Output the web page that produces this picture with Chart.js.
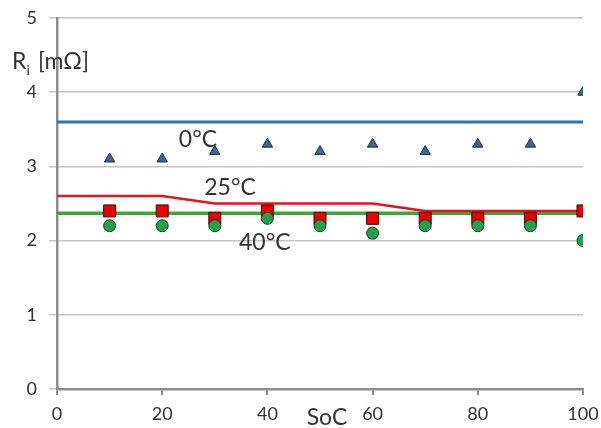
<!DOCTYPE html>
<html>
<head>
<meta charset="utf-8">
<script src="https://cdn.jsdelivr.net/npm/chart.js@4.4.1/dist/chart.umd.min.js"></script>
<style>
  html, body { margin: 0; padding: 0; background: #ffffff; }
  #wrap { width: 601px; height: 428px; position: relative; }
</style>
</head>
<body>
<div id="wrap"><canvas id="c" width="601" height="428"></canvas></div>
<script>
// State of charge (%) at which the internal resistance was measured
const socPoints = [10, 20, 30, 40, 50, 60, 70, 80, 90, 100];

// Measured internal resistance R_i in mΩ
const ri0C  = [3.1, 3.1, 3.2, 3.3, 3.2, 3.3, 3.2, 3.3, 3.3, 4.0];
const ri25C = [2.4, 2.4, 2.3, 2.4, 2.3, 2.3, 2.3, 2.3, 2.3, 2.4];
const ri40C = [2.2, 2.2, 2.2, 2.3, 2.2, 2.1, 2.2, 2.2, 2.2, 2.0];

// Model curves
const modelSoc0C  = [0, 100];
const model0C     = [3.6, 3.6];
const modelSoc25C = [0, 20, 30, 60, 70, 100];
const model25C    = [2.6, 2.6, 2.5, 2.5, 2.4, 2.4];
const modelSoc40C = [0, 100];
const model40C    = [2.37, 2.37];

// Axis ticks
const xTicks = [0, 20, 40, 60, 80, 100];
const yTicks = [0, 1, 2, 3, 4, 5];

// Temperature labels, anchored (baseline centre) at data coordinates
const tempLabels = ['0°C', '25°C', '40°C'];
const tempLabelX = [26.8, 32.9, 39.5];
const tempLabelY = [3.26, 2.61, 1.87];

const FONT = 'Lato, "Open Sans", sans-serif';
const toXY = (xs, ys) => xs.map((x, i) => ({ x: x, y: ys[i] }));

const labelsPlugin = {
  id: 'chartTexts',
  afterDraw(chart) {
    const ctx = chart.ctx;
    const xs = chart.scales.x, ys = chart.scales.y;
    ctx.save();
    ctx.fillStyle = '#333333';
    ctx.textAlign = 'center';
    ctx.textBaseline = 'alphabetic';
    ctx.font = '23px ' + FONT;
    tempLabels.forEach((t, i) => {
      ctx.fillText(t, xs.getPixelForValue(tempLabelX[i]), ys.getPixelForValue(tempLabelY[i]));
    });
    // y axis title: R with subscript i, then unit
    ctx.textAlign = 'left';
    ctx.font = '23px ' + FONT;
    ctx.fillText('R', 12, 69);
    const rw = ctx.measureText('R').width;
    ctx.font = '14px ' + FONT;
    ctx.fillText('i', 12 + rw, 75);
    ctx.font = '23px ' + FONT;
    ctx.fillText('[mΩ]', 38, 69);
    // x axis title
    ctx.textAlign = 'center';
    ctx.fillText('SoC', 327, 425);
    ctx.restore();
  }
};

new Chart(document.getElementById('c'), {
  type: 'scatter',
  data: {
    datasets: [
      {
        label: '40°C',
        data: toXY(socPoints, ri40C),
        pointStyle: 'circle',
        pointRadius: 6,
        pointHoverRadius: 6,
        backgroundColor: '#1fa34a',
        borderColor: '#1d3b22',
        borderWidth: 1,
        showLine: false
      },
      {
        label: '25°C',
        data: toXY(socPoints, ri25C),
        pointStyle: 'rect',
        pointRadius: 8.5,
        pointHoverRadius: 8.5,
        backgroundColor: '#ee0000',
        borderColor: '#3a1010',
        borderWidth: 1,
        showLine: false
      },
      {
        label: '0°C',
        data: toXY(socPoints, ri0C),
        pointStyle: 'triangle',
        pointRadius: 6,
        pointHoverRadius: 6,
        backgroundColor: '#3c6690',
        borderColor: '#1c2f45',
        borderWidth: 1,
        showLine: false
      },
      {
        label: 'model 25°C',
        data: toXY(modelSoc25C, model25C),
        showLine: true,
        borderColor: '#e3141c',
        borderWidth: 2.5,
        pointRadius: 0,
        tension: 0
      },
      {
        label: 'model 40°C',
        data: toXY(modelSoc40C, model40C),
        showLine: true,
        borderColor: '#3aa73c',
        borderWidth: 3.5,
        pointRadius: 0
      },
      {
        label: 'model 0°C',
        data: toXY(modelSoc0C, model0C),
        showLine: true,
        borderColor: '#2f74b0',
        borderWidth: 3,
        pointRadius: 0
      }
    ]
  },
  options: {
    responsive: false,
    animation: false,
    devicePixelRatio: 1,
    layout: { padding: { top: 18, right: 18, left: 0, bottom: 0 } },
    plugins: {
      legend: { display: false },
      tooltip: { enabled: false }
    },
    scales: {
      x: {
        type: 'linear',
        min: 0, max: 100,
        afterFit(s) { s.height = 39; s.paddingLeft = 0; s.paddingRight = 0; },
        afterBuildTicks(s) { s.ticks = xTicks.map(v => ({ value: v })); },
        grid: { drawOnChartArea: false, drawTicks: true, tickLength: 6, color: '#8c8c8c', lineWidth: 2 },
        border: { display: true, color: '#8c8c8c', width: 2.5 },
        ticks: { color: '#333333', font: { family: FONT, size: 18 }, padding: 8, maxRotation: 0 }
      },
      y: {
        type: 'linear',
        min: 0, max: 5,
        afterFit(s) { s.width = 57; s.paddingTop = 0; s.paddingBottom = 0; },
        afterBuildTicks(s) { s.ticks = yTicks.map(v => ({ value: v })); },
        grid: { color: '#c4c4c4', lineWidth: 1.5, drawTicks: true, tickLength: 8 },
        border: { display: true, color: '#8c8c8c', width: 2.5 },
        ticks: { color: '#333333', font: { family: FONT, size: 18 }, padding: 12 }
      }
    }
  },
  plugins: [labelsPlugin]
});
</script>
</body>
</html>
